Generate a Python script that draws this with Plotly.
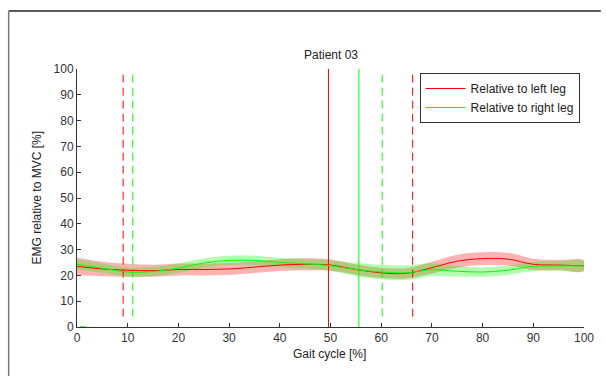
import plotly.graph_objects as go

# ---- data ----
gait = [0, 5, 10, 15, 20, 25, 30, 35, 40, 45, 50, 55, 60, 65, 70, 75, 80, 85, 90, 95, 100]
left_mean = [23.5, 22.5, 22.0, 21.8, 22.3, 22.3, 22.5, 23.2, 24.0, 24.3, 24.0, 22.3, 21.0, 20.8, 23.0, 25.5, 26.5, 26.3, 24.3, 24.0, 23.7]
left_sd = [3.3, 2.8, 2.5, 2.3, 2.3, 2.3, 2.3, 2.3, 2.3, 2.3, 2.2, 2.0, 2.0, 2.0, 2.3, 2.5, 2.5, 2.5, 2.2, 2.0, 2.0]
right_mean = [24.3, 22.8, 21.3, 21.5, 22.8, 24.8, 25.8, 25.8, 25.0, 24.5, 23.8, 22.3, 21.3, 21.0, 22.2, 21.6, 21.3, 22.0, 23.5, 23.7, 23.7]
right_sd = [2.0, 1.8, 1.8, 1.8, 1.8, 1.8, 1.8, 1.8, 1.8, 1.8, 2.0, 2.5, 2.8, 2.8, 2.5, 2.0, 1.8, 1.8, 1.8, 1.8, 1.8]

# gait events (vertical lines): position, side, style, y-extent
event_x = [9.1, 11.0, 49.6, 55.6, 60.2, 66.2]
event_side = ["left", "right", "left", "right", "right", "left"]
event_dash = ["8px,5px", "8px,5px", "solid", "solid", "8px,5px", "8px,5px"]
event_ylo = [4, 4, 0, 0, 4, 4]
event_yhi = [99, 99, 100, 100, 99, 99]

marker_seg_x = [0.6, 1.8]
marker_seg_y = [0, 0]

title_text = "Patient 03"
x_label = "Gait cycle [%]"
y_label = "EMG relative to MVC [%]"
ticks = [0, 10, 20, 30, 40, 50, 60, 70, 80, 90, 100]

line_col = {"left": "#FF0000", "right": "#00FF00"}
band_col = {"left": "rgba(255,0,0,0.30)", "right": "rgba(0,255,0,0.30)"}

fig = go.Figure()

def band(mean, sd, col):
    up = [m + s for m, s in zip(mean, sd)]
    lo = [m - s for m, s in zip(mean, sd)]
    return go.Scatter(x=gait + gait[::-1], y=up + lo[::-1], fill="toself",
                      fillcolor=col, line=dict(width=0, shape="spline"),
                      mode="lines", hoverinfo="skip", showlegend=False)

fig.add_trace(band(left_mean, left_sd, band_col["left"]))
fig.add_trace(band(right_mean, right_sd, band_col["right"]))

for ex, side, dash, ylo, yhi in zip(event_x, event_side, event_dash, event_ylo, event_yhi):
    fig.add_trace(go.Scatter(x=[ex, ex], y=[ylo, yhi], mode="lines",
                             line=dict(color=line_col[side], width=1, dash=dash),
                             showlegend=False, hoverinfo="skip"))

fig.add_trace(go.Scatter(x=marker_seg_x, y=marker_seg_y, mode="lines",
                         line=dict(color=line_col["right"], width=1.5),
                         showlegend=False, hoverinfo="skip"))

fig.add_trace(go.Scatter(x=gait, y=left_mean, mode="lines", name="Relative to left leg",
                         line=dict(color=line_col["left"], width=1, shape="spline")))
fig.add_trace(go.Scatter(x=gait, y=right_mean, mode="lines", name="Relative to right leg",
                         line=dict(color=line_col["right"], width=1, shape="spline")))

L, R, T, B = 77, 17, 69, 49
W, H = 606, 376
pw, ph = W - L - R, H - T - B

def px2paper_x(px):
    return (px - L) / pw

def px2paper_y(py):
    return (H - B - py) / ph

font = "Liberation Sans, Arial, sans-serif"
fs = 12
axis_common = dict(range=[0, 100], tickvals=ticks, ticks="inside", ticklen=4,
                   tickcolor="#333333", showline=True, linecolor="#333333",
                   linewidth=1, showgrid=False, zeroline=False,
                   tickfont=dict(family=font, size=fs, color="#333333"), mirror=False)

fig.update_layout(
    width=W, height=H,
    margin=dict(l=L, r=R, t=T, b=B, pad=0),
    paper_bgcolor="white", plot_bgcolor="white",
    xaxis=axis_common,
    yaxis=axis_common,
    showlegend=True,
    legend=dict(x=px2paper_x(423), y=px2paper_y(73), xanchor="left", yanchor="top",
                bordercolor="#333333", borderwidth=1, bgcolor="white",
                font=dict(family=font, size=fs, color="#222222"),
                tracegroupgap=0, itemwidth=40),
    annotations=[
        dict(text=title_text, xref="paper", yref="paper", x=0.5, y=px2paper_y(55),
             xanchor="center", yanchor="middle", showarrow=False,
             font=dict(family=font, size=fs, color="#222222")),
        dict(text=x_label, xref="paper", yref="paper", x=px2paper_x(332), y=px2paper_y(354),
             xanchor="center", yanchor="middle", showarrow=False,
             font=dict(family=font, size=fs, color="#222222")),
        dict(text=y_label, xref="paper", yref="paper", x=px2paper_x(37), y=px2paper_y(198),
             xanchor="center", yanchor="middle", showarrow=False, textangle=-90,
             font=dict(family=font, size=fs, color="#222222")),
    ],
    shapes=[
        dict(type="line", xref="paper", yref="paper", x0=px2paper_x(8), x1=px2paper_x(606),
             y0=px2paper_y(11), y1=px2paper_y(11), line=dict(color="#222222", width=1.5)),
        dict(type="line", xref="paper", yref="paper", x0=px2paper_x(8), x1=px2paper_x(8),
             y0=px2paper_y(11), y1=px2paper_y(376), line=dict(color="#777777", width=1.5)),
    ],
)

fig.write_html("out.html")
